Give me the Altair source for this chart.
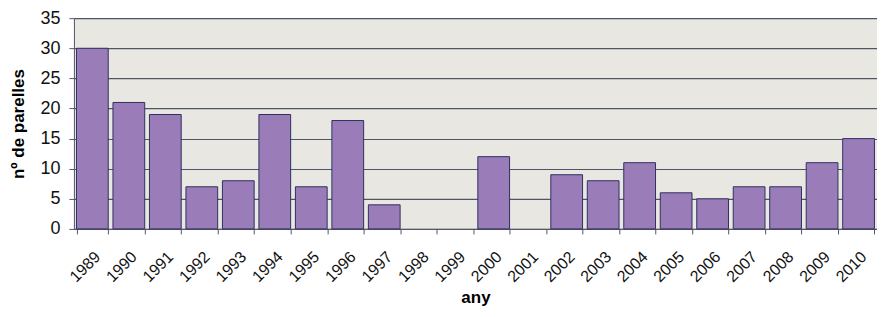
import altair as alt
import pandas as pd

years = [str(y) for y in range(1989, 2011)]
counts = [30, 21, 19, 7, 8, 19, 7, 18, 4, 0, 0, 12, 0, 9, 8, 11, 6, 5, 7, 7, 11, 15]

df = pd.DataFrame({"any": years, "n": counts})

chart = alt.Chart(df).mark_bar(
    color="#9a7cb8", stroke="#2e3160", strokeWidth=1
).encode(
    x=alt.X("any:N", sort=years, title="any",
            scale=alt.Scale(paddingInner=0.13, paddingOuter=0.07),
            axis=alt.Axis(labelAngle=-45, labelFontSize=16, labelFont="Liberation Sans",
                          labelColor="#111", labelAlign="right", labelBaseline="middle",
                          labelPadding=20, labelOffset=5, tickBand="extent", tickSize=5,
                          tickColor="#556", domainColor="#556",
                          titleFontSize=17, titleFont="Liberation Sans", titleFontWeight="bold",
                          titlePadding=5, grid=False)),
    y=alt.Y("n:Q", title="nº de parelles",
            scale=alt.Scale(domain=[0, 35]),
            axis=alt.Axis(values=[0, 5, 10, 15, 20, 25, 30, 35], labelFontSize=18,
                          labelFont="Liberation Sans", labelColor="#111", labelPadding=9,
                          tickSize=5, tickColor="#556", domainColor="#556",
                          gridColor="#4d5566", gridWidth=1.2, gridOpacity=1,
                          titleFontSize=17, titleFont="Liberation Sans", titleFontWeight="bold",
                          titlePadding=12)),
    strokeOpacity=alt.condition(alt.datum.n > 0, alt.value(1), alt.value(0)),
).properties(
    width=804, height=211,
    autosize=alt.AutoSizeParams(type="none"),
    padding={"left": 66, "top": 10, "right": 0, "bottom": 80},
).configure_view(
    fill="#e9e7e1", stroke=None
)

chart.save("out.html", embed_options={"renderer": "svg", "actions": False})
